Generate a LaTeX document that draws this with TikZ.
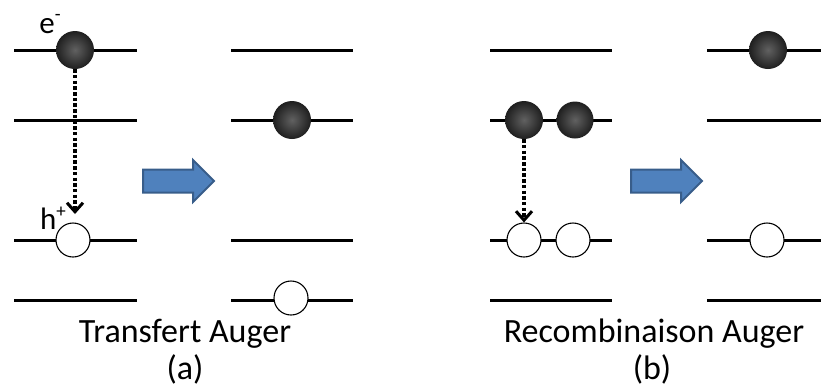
\documentclass[tikz,border=0pt]{standalone}
\usepackage{fontspec}
\setmainfont{Carlito}
\usepackage{tikz}
\usetikzlibrary{positioning}
\usetikzlibrary{calc}
\usetikzlibrary{arrows.meta}
\definecolor{arrowfill}{RGB}{79,129,189}
\definecolor{arrowedge}{RGB}{56,93,138}
\newcommand{\capfont}{\fontsize{34}{34}\selectfont}
\newcommand{\labfont}{\fontsize{31}{31}\selectfont}
\newcommand{\supfont}{\fontsize{19}{19}\selectfont}
\tikzstyle{level}=[line width=3pt]
\tikzstyle{electron}=[circle,minimum size=38pt,inner sep=0pt,shading=radial,
  inner color=black!62,outer color=black!88]
\tikzstyle{hole}=[circle,minimum size=34pt,inner sep=0pt,draw=black,fill=white,line width=1.1pt]
\tikzstyle{jump}=[line width=4pt,dash pattern=on 3.5pt off 2.2pt,
  -{Straight Barb[length=9pt,width=16pt,line width=3pt]}]
\tikzstyle{bigarrow}=[draw=arrowedge,fill=arrowfill,line width=2pt,line join=miter]
\tikzset{>=latex}

\begin{document}
\begin{tikzpicture}[x=1pt,y=-1pt]
    \useasboundingbox (0,0) rectangle (821,389);
    % heights of the four levels
    \pgfmathsetmacro{\LevA}{50}
    \pgfmathsetmacro{\LevB}{120}
    \pgfmathsetmacro{\LevC}{240}
    \pgfmathsetmacro{\LevD}{300}

    % levels of each panel
    \foreach \xa/\xb in {14/137, 231/353, 490/612, 707/821}{
        \foreach \yy in {\LevA,\LevB,\LevC,\LevD}
            \draw[level] (\xa,\yy) -- (\xb,\yy);
    }

    % big arrows between the panels
    \foreach \xs in {143, 631}{
        \draw[bigarrow] (\xs,169.5) -- ++(50,0) -- ++(0,-9.5) -- ++(21,21)
          -- ++(-21,21) -- ++(0,-9.5) -- ++(-50,0) -- cycle;
    }

    % (a) before
    \node[electron] (ea) at (75,\LevA) {};
    \node[hole] (ha) at (73,\LevC) {};
    \node (elab) at (50,24) {\labfont e\raisebox{0.42em}{\supfont -}};
    \node (hlab) at (53,218) {\labfont h\raisebox{0.38em}{\supfont +}};
    \coordinate (tipa) at (75,214);
    \draw[jump] (ea.south) -- (tipa);

    % (a) after
    \node[electron] (eb) at (292,\LevB) {};
    \node[hole] (hb) at (291,298) {};

    % (b) before
    \node[electron] (ec) at (524,\LevB) {};
    \node[electron, minimum size=37pt] (ed) at (575,\LevB) {};
    \node[hole] (hc) at (524,\LevC) {};
    \node[hole] (hd) at (573,\LevC) {};
    \draw[jump] (ec.south) -- (hc.north);

    % (b) after
    \node[electron] (ee) at (768,\LevA) {};
    \node[hole] (he) at (767,\LevC) {};

    % captions
    \node[anchor=base] (capa) at (185,342) {\capfont Transfert Auger};
    \node[anchor=base] (laba) at (185,379) {\capfont (a)};
    \node[anchor=base] (capb) at (654,342) {\capfont Recombinaison Auger};
    \node[anchor=base] (labb) at (652,379) {\capfont (b)};
\end{tikzpicture}
\end{document}
